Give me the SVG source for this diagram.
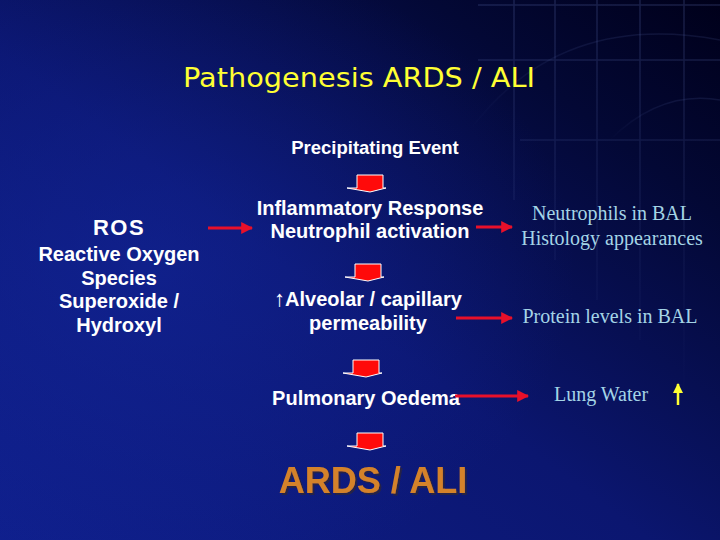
<svg xmlns="http://www.w3.org/2000/svg" width="720" height="540" viewBox="0 0 720 540">
<defs>
<linearGradient id="bg" x1="0" y1="1" x2="1" y2="0">
<stop offset="0" stop-color="#0f1f8c"/>
<stop offset="0.45" stop-color="#0b1670"/>
<stop offset="0.8" stop-color="#030835"/>
<stop offset="1" stop-color="#00001a"/>
</linearGradient>
<radialGradient id="glow" cx="0.2" cy="0.5" r="0.6">
<stop offset="0" stop-color="#1428a0" stop-opacity="0.5"/>
<stop offset="1" stop-color="#1428a0" stop-opacity="0"/>
</radialGradient>
<linearGradient id="gridfade" x1="0" y1="0" x2="0" y2="1">
<stop offset="0" stop-color="#5060a0" stop-opacity="0.3"/>
<stop offset="1" stop-color="#5060a0" stop-opacity="0"/>
</linearGradient>
<filter id="sh" x="-10%" y="-20%" width="130%" height="150%">
<feDropShadow dx="2" dy="2" stdDeviation="0.5" flood-color="#2a2040" flood-opacity="0.9"/>
</filter>
<marker id="ah" viewBox="0 0 10 10" refX="9" refY="5" markerWidth="4" markerHeight="4" orient="auto" markerUnits="strokeWidth">
<path d="M0,0 L10,5 L0,10 Z" fill="#e8102a"/>
</marker>
<marker id="yah" viewBox="0 0 10 10" refX="9" refY="5" markerWidth="4" markerHeight="4" orient="auto" markerUnits="strokeWidth">
<path d="M0,0 L10,5 L0,10 Z" fill="#ffff33"/>
</marker>
<path id="blk" d="M-13,0 H13 V13 H16 L0,17 L-23,13 H-13 Z" fill="#ff0a0a" stroke="#ffffff" stroke-width="1"/>
<style>
.w{font-family:"Liberation Sans",Arial,sans-serif;font-weight:bold;fill:#ffffff;text-anchor:middle;font-size:20px;}
.b{font-family:"Liberation Serif","Times New Roman",serif;fill:#a4d4e6;text-anchor:middle;font-size:20px;}
.conn{stroke:#e8102a;stroke-width:3;fill:none;marker-end:url(#ah);}
</style>
</defs>
<rect width="720" height="540" fill="url(#bg)"/>
<rect width="720" height="540" fill="url(#glow)"/>
<g stroke="url(#gridfade)" stroke-width="1.5" fill="none">
<path d="M514,0 V200 M555,0 V260 M597,0 V300 M640,0 V340 M684,0 V400 M478,5 H720 M478,60 H720 M520,140 H720"/>
<path d="M470,130 Q560,10 720,40" stroke-opacity="0.6"/>
<path d="M610,140 Q660,90 720,100" stroke-opacity="0.6"/>
</g>
<text x="359" y="87" font-family="'DejaVu Sans',Tahoma,sans-serif" font-size="26" fill="#ffff33" text-anchor="middle" textLength="352" lengthAdjust="spacingAndGlyphs">Pathogenesis ARDS / ALI</text>
<g id="precip"><text class="w" x="375" y="154" style="font-size:18.5px">Precipitating Event</text></g>
<g id="inflam"><text class="w" x="370" y="215">Inflammatory Response</text><text class="w" x="370" y="238">Neutrophil activation</text></g>
<g id="ros">
<text class="w" x="119" y="235" style="font-size:22px;letter-spacing:1.5px">ROS</text>
<text class="w" x="119" y="261">Reactive Oxygen</text>
<text class="w" x="119" y="285">Species</text>
<text class="w" x="119" y="308">Superoxide /</text>
<text class="w" x="119" y="332">Hydroxyl</text>
</g>
<g id="alveolar"><text class="w" x="368" y="306"><tspan style="font-size:22px;font-weight:normal">↑</tspan>Alveolar / capillary</text><text class="w" x="368" y="330">permeability</text></g>
<g id="oedema"><text class="w" x="366" y="405">Pulmonary Oedema</text></g>
<g id="ards">
<text x="373" y="493" font-family="'Liberation Sans',Arial,sans-serif" font-size="36" font-weight="bold" fill="#d4822a" text-anchor="middle" filter="url(#sh)">ARDS / ALI</text>
</g>
<g id="neutro"><text class="b" x="612" y="220">Neutrophils in BAL</text><text class="b" x="612" y="245">Histology appearances</text></g>
<g id="protein"><text class="b" x="610" y="323">Protein levels in BAL</text></g>
<g id="lungwater"><text class="b" x="601" y="401">Lung Water</text></g>
<g id="connectors">
<use href="#blk" x="370" y="175"/>
<use href="#blk" x="368" y="264"/>
<use href="#blk" x="366" y="360"/>
<use href="#blk" x="370" y="433"/>
<line class="conn" x1="208" y1="228" x2="252" y2="228"/>
<line class="conn" x1="476" y1="227" x2="512" y2="227"/>
<line class="conn" x1="456" y1="318" x2="512" y2="318"/>
<line class="conn" x1="455" y1="396" x2="528" y2="396"/>
<line x1="678" y1="405" x2="678" y2="384" stroke="#ffff33" stroke-width="2.5" marker-end="url(#yah)"/>
</g>
</svg>
